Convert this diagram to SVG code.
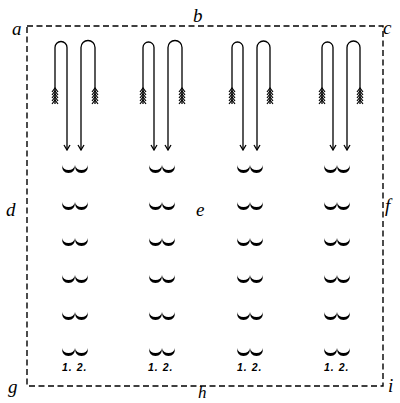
<svg xmlns="http://www.w3.org/2000/svg" xmlns:xlink="http://www.w3.org/1999/xlink" width="400" height="403" viewBox="0 0 400 403">
<style>
.frame{fill:none;stroke:#000;stroke-width:1.4;stroke-dasharray:6 3.5}
.shaft{fill:none;stroke:#000;stroke-width:1.3}
.feather{fill:none;stroke:#000;stroke-width:1.2}
.lbl{font-family:"Liberation Serif",serif;font-style:italic;font-size:19px;fill:#000}
.num{font-family:"Liberation Sans",sans-serif;font-style:italic;font-weight:bold;font-size:10.5px;letter-spacing:1px;fill:#000}
.w{fill:#000}
</style>
<defs>
<marker id="ah" markerUnits="userSpaceOnUse" markerWidth="8" markerHeight="8" viewBox="0 0 8 8" refX="7" refY="4" orient="auto">
<path d="M2,1 L7,4 L2,7" fill="none" stroke="#000" stroke-width="1.3"/>
</marker>
<g id="fl">
<path class="feather" d="M-3,92 L0,88 L3,92 M-3,95 L0,91 L3,95 M-3,98 L0,94 L3,98 M-3,101 L0,97 L3,101 M-3,104 L0,100 L3,104"/>
</g>
<path id="om" d="M-13,0 Q-13,8 -6.5,8 Q0,8 0,0 Q-1,5 -6.5,5 Q-12,5 -13,0 Z M0,0 Q0,8 6.5,8 Q13,8 13,0 Q12,5 6.5,5 Q1,5 0,0 Z"/>
</defs>
<g id="frame">
<path class="frame" d="M27,26 H383 V386 H27 Z"/>
</g>
<g id="labels">
<text class="lbl" x="12" y="35">a</text>
<text class="lbl" x="193" y="22">b</text>
<text class="lbl" x="383" y="34">c</text>
<text class="lbl" x="6" y="216">d</text>
<text class="lbl" x="196" y="216">e</text>
<text class="lbl" x="385" y="212">f</text>
<text class="lbl" x="8" y="393">g</text>
<text class="lbl" x="198" y="398" style="font-size:17px">h</text>
<text class="lbl" x="388" y="392">i</text>
</g>
<g id="connectors">
<path class="shaft" d="M55,104 V47.5 A6,6 0 0 1 67,47.5 V150" marker-end="url(#ah)"/>
<path class="shaft" d="M95,104 V47.5 A7,7 0 0 0 81,47.5 V150" marker-end="url(#ah)"/>
<path class="shaft" d="M143,104 V47.5 A5.5,5.5 0 0 1 154,47.5 V150" marker-end="url(#ah)"/>
<path class="shaft" d="M182,104 V47.5 A7,7 0 0 0 168,47.5 V150" marker-end="url(#ah)"/>
<path class="shaft" d="M232,104 V47.5 A5.5,5.5 0 0 1 243,47.5 V150" marker-end="url(#ah)"/>
<path class="shaft" d="M270,104 V47.5 A6.5,6.5 0 0 0 257,47.5 V150" marker-end="url(#ah)"/>
<path class="shaft" d="M322,104 V47.5 A5.5,5.5 0 0 1 333,47.5 V150" marker-end="url(#ah)"/>
<path class="shaft" d="M360,104 V47.5 A6.5,6.5 0 0 0 347,47.5 V150" marker-end="url(#ah)"/>
<use href="#fl" x="55"/><use href="#fl" x="95"/>
<use href="#fl" x="143"/><use href="#fl" x="182"/>
<use href="#fl" x="232"/><use href="#fl" x="270"/>
<use href="#fl" x="322"/><use href="#fl" x="360"/>
</g>
<g id="col1">
<use href="#om" class="w" x="75" y="165"/><use href="#om" class="w" x="75" y="202"/><use href="#om" class="w" x="75" y="238"/><use href="#om" class="w" x="75" y="275"/><use href="#om" class="w" x="75" y="312"/><use href="#om" class="w" x="75" y="348"/>
<text class="num" x="62" y="371">1. 2.</text>
</g>
<g id="col2">
<use href="#om" class="w" x="162" y="165"/><use href="#om" class="w" x="162" y="202"/><use href="#om" class="w" x="162" y="238"/><use href="#om" class="w" x="162" y="275"/><use href="#om" class="w" x="162" y="312"/><use href="#om" class="w" x="162" y="348"/>
<text class="num" x="148" y="371">1. 2.</text>
</g>
<g id="col3">
<use href="#om" class="w" x="250" y="165"/><use href="#om" class="w" x="250" y="202"/><use href="#om" class="w" x="250" y="238"/><use href="#om" class="w" x="250" y="275"/><use href="#om" class="w" x="250" y="312"/><use href="#om" class="w" x="250" y="348"/>
<text class="num" x="237" y="371">1. 2.</text>
</g>
<g id="col4">
<use href="#om" class="w" x="337" y="165"/><use href="#om" class="w" x="337" y="202"/><use href="#om" class="w" x="337" y="238"/><use href="#om" class="w" x="337" y="275"/><use href="#om" class="w" x="337" y="312"/><use href="#om" class="w" x="337" y="348"/>
<text class="num" x="324" y="371">1. 2.</text>
</g>
</svg>
